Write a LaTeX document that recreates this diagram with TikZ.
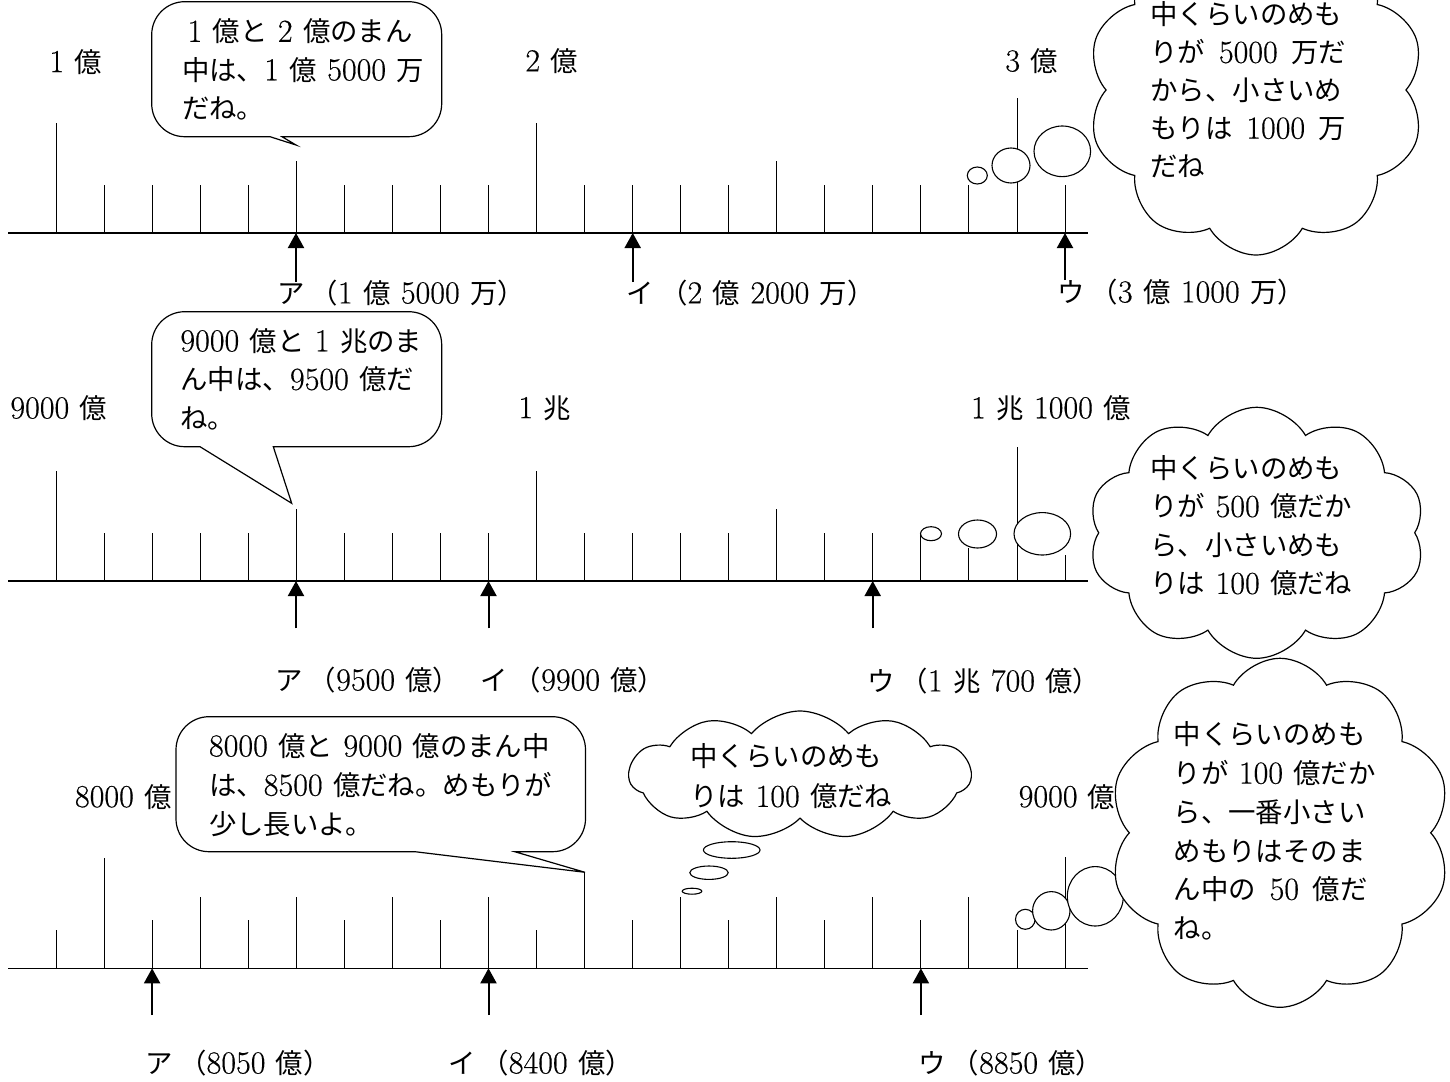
\documentclass[tikz,border=0pt]{standalone}
\usepackage{fontspec}
\newfontfamily\cjk{Noto Sans CJK JP}
\newfontfamily\lmr{Latin Modern Roman}[Scale=1.17,FakeBold=0.4]
\usetikzlibrary{arrows.meta,shapes.symbols}
\newcommand\D[1]{{\lmr #1}}
\newcommand\g{\hspace{0.38em}}
\newcommand\G{\hspace{0.5em}}
\newcommand\K{\hspace{0.22em}}
\begin{document}
\begin{tikzpicture}[x=0.5pt,y=-0.5pt,
  font={\cjk\fontsize{13.7pt}{19.25pt}\selectfont},
  lbl/.style={anchor=west,inner sep=0pt},
  txt/.style={anchor=north west,inner sep=0pt,align=left},
  axisline/.style={line width=0.65pt},
  tickline/.style={line width=0.5pt},
  arr/.style={line width=1pt,-{Triangle[width=8pt,length=7.5pt]}},
  memo/.style={line width=0.55pt,fill=white},
  bubble/.style={line width=0.6pt,fill=white,line join=miter},
  cloudsh/.style={cloud,cloud puffs=10,cloud puff arc=120,cloud ignores aspect,
    draw,fill=white,line width=0.6pt,inner sep=0pt,minimum width=168.5pt}]
\path[use as bounding box,fill=white] (0,0) rectangle (1450,1081);

% ---------- labels above the axes ----------
\node[lbl] (t1a) at (49,61.7) {\D{1}\g{}億};
\node[lbl] (t1b) at (525,61) {\D{2}\g{}億};
\node[lbl] (t1c) at (1005,61) {\D{3}\g{}億};
\node[lbl] (t2a) at (10,408) {\D{9000}\g{}億};
\node[lbl] (t2b) at (518,408) {\D{1}\g{}兆};
\node[lbl] (t2c) at (970.7,408) {\D{1}\g{}兆\g{}\D{1000}\g{}億};
\node[lbl] (t3a) at (74.6,796.7) {\D{8000}\g{}億};
\node[lbl] (t3b) at (1018.3,796.7) {\D{9000}\g{}億};

% ---------- labels below the axes ----------
\node[lbl] (b1a) at (276.7,293) {ア\K{}（\D{1}\g{}億\g{}\D{5000}\g{}万）};
\node[lbl] (b1b) at (626.3,293) {イ\K{}（\D{2}\g{}億\g{}\D{2000}\g{}万）};
\node[lbl] (b1c) at (1056.7,292) {ウ\K{}（\D{3}\g{}億\g{}\D{1000}\g{}万）};
\node[lbl] (b2a) at (275,680) {ア\K{}（\D{9500}\g{}億）};
\node[lbl] (b2b) at (480,680) {イ\K{}（\D{9900}\g{}億）};
\node[lbl] (b2c) at (866.7,681) {ウ\K{}（\D{1}\g{}兆\g{}\D{700}\g{}億）};
\node[lbl] (b3a) at (145.4,1063) {ア\K{}（\D{8050}\g{}億）};
\node[lbl] (b3b) at (447.6,1063) {イ\K{}（\D{8400}\g{}億）};
\node[lbl] (b3c) at (918,1063) {ウ\K{}（\D{8850}\g{}億）};

% ---------- axes and ticks ----------
\draw[axisline] (8,233) -- (1088,233);
\draw[axisline] (8,581) -- (1088,581);
\draw[axisline] (8,968.3) -- (1088,968.3);
\foreach \t [count=\k from 0] in {123,185,185,185,185,161,185,185,185,185,123,185,185,185,185,161,185,185,185,185,98,185}
  \draw[tickline] ({56+48.05*\k},233) -- ({56+48.05*\k},\t);
\foreach \t [count=\k from 0] in {471,533,533,533,533,509,533,533,533,533,471,533,533,533,533,509,533,533,533,548,446.7,555}
  \draw[tickline] ({56+48.05*\k},581) -- ({56+48.05*\k},\t);
\foreach \t [count=\k from 0] in {930,857.7,920,896.7,920,896.7,920,896.7,920,896.7,930,872.3,920,896.7,920,896.7,920,896.7,920,896.7,930,857.3}
  \draw[tickline] ({56+48.05*\k},968.3) -- ({56+48.05*\k},\t);

% ---------- memory circles ----------
\draw[memo] (977.3,175.5) ellipse [x radius=10,y radius=8.5];
\draw[memo] (1011,165.5) ellipse [x radius=19,y radius=17.5];
\draw[memo] (1062.3,151.3) ellipse [x radius=28.3,y radius=25.3];
\draw[memo] (931,533.7) ellipse [x radius=10.5,y radius=7];
\draw[memo] (977.5,534) ellipse [x radius=19,y radius=14];
\draw[memo] (1042.3,533.8) ellipse [x radius=28.3,y radius=21.2];
\draw[memo] (1025.3,919.3) ellipse [x radius=9.8,y radius=10];
\draw[memo] (1051.3,910.8) ellipse [x radius=18.7,y radius=19.2];
\draw[memo] (1095.3,896.3) ellipse [x radius=28,y radius=29.7];
% thought bubbles
\draw[memo] (731.7,850) ellipse [x radius=28.3,y radius=8.3];
\draw[memo] (709,872.7) ellipse [x radius=19.2,y radius=6.7];
\draw[memo] (692,891.2) ellipse [x radius=9.8,y radius=3];

% ---------- arrows ----------
\coordinate (p1a) at (296,233);   \coordinate (s1a) at (296,282);
\coordinate (p1b) at (632.7,233); \coordinate (s1b) at (632.7,282);
\coordinate (p1c) at (1065,233);  \coordinate (s1c) at (1065,280);
\coordinate (p2a) at (296,581);   \coordinate (s2a) at (296,628.3);
\coordinate (p2b) at (488.5,581); \coordinate (s2b) at (488.5,628.3);
\coordinate (p2c) at (872.7,581); \coordinate (s2c) at (872.7,628.3);
\coordinate (p3a) at (152.1,968.3); \coordinate (s3a) at (152.1,1015);
\coordinate (p3b) at (488.5,968.3); \coordinate (s3b) at (488.5,1015);
\coordinate (p3c) at (920.9,968.3); \coordinate (s3c) at (920.9,1015);
\foreach \n in {1a,1b,1c,2a,2b,2c,3a,3b,3c}
  \draw[arr] (s\n) -- (p\n);

% ---------- speech bubbles ----------
\draw[bubble] (191.7,136.7) -- (270,136.7) -- (296,145) -- (282,136.7) -- (292,136.7)
  [rounded corners=16.5pt] -- (441.7,136.7) -- (441.7,1.7) -- (151.7,1.7) -- (151.7,136.7) -- (191.7,136.7);
\node[txt] (q1) at (181.7,18.5) {\hspace*{0.2em}\D{1}\g{}億と\g{}\D{2}\g{}億のまん\\中は、\D{1}\g{}億\g{}\D{5000}\g{}万\\だね。};

\draw[bubble] (191.7,446.7) -- (200,446.7) -- (291.7,503.3) -- (273.3,446.7) -- (283.3,446.7)
  [rounded corners=16.5pt] -- (441.7,446.7) -- (441.7,311.7) -- (151.7,311.7) -- (151.7,446.7) -- (191.7,446.7);
\node[txt] (q2) at (180,328) {\D{9000}\g{}億と\g{}\D{1}\g{}兆のま\\ん中は、\D{9500}\g{}億だ\\ね。};

\draw[bubble] (216,851.7) -- (415,851.7) -- (585,872.3) -- (514.7,851.7) -- (524.7,851.7)
  [rounded corners=16.5pt] -- (585.5,851.7) -- (585.5,716.7) -- (176,716.7) -- (176,851.7) -- (216,851.7);
\node[txt,font={\cjk\fontsize{13.7pt}{19.6pt}\selectfont}] (q3) at (208.6,733) {\D{8000}\g{}億と\g{}\D{9000}\g{}億のまん中\\は、\D{8500}\g{}億だね。めもりが\\少し長いよ。};

% ---------- clouds ----------
\node[cloudsh,cloud puffs=11,cloud puff arc=100,minimum height=64pt,minimum width=171pt] (c0) at (800,775) {};
\node[txt,font={\cjk\fontsize{13.7pt}{20pt}\selectfont}] (c0t) at (690,743.5) {中くらいのめも\\りは\g{}\D{100}\g{}億だね};

\node[cloudsh,minimum height=165pt] (c1) at (1256,90) {};
\node[txt,font={\cjk\fontsize{13.7pt}{18.95pt}\selectfont}] (c1t) at (1150,1.5) {中くらいのめも\\りが\G{}\D{5000}\G{}万だ\\から、小さいめ\\もりは\G{}\D{1000}\G{}万\\だね};

\node[cloudsh,minimum height=125.5pt] (c2) at (1256.7,532.8) {};
\node[txt] (c2t) at (1150,455) {中くらいのめも\\りが\g{}\D{500}\g{}億だか\\ら、小さいめも\\りは\g{}\D{100}\g{}億だね};

\node[cloudsh,minimum height=174.5pt,minimum width=171pt] (c3) at (1280,832.8) {};
\node[txt,font={\cjk\fontsize{13.7pt}{19.35pt}\selectfont}] (c3t) at (1173.3,721.5) {中くらいのめも\\りが\g{}\D{100}\g{}億だか\\ら、一番小さい\\めもりはそのま\\ん中の\G{}\D{50}\G{}億だ\\ね。};
\end{tikzpicture}
\end{document}
